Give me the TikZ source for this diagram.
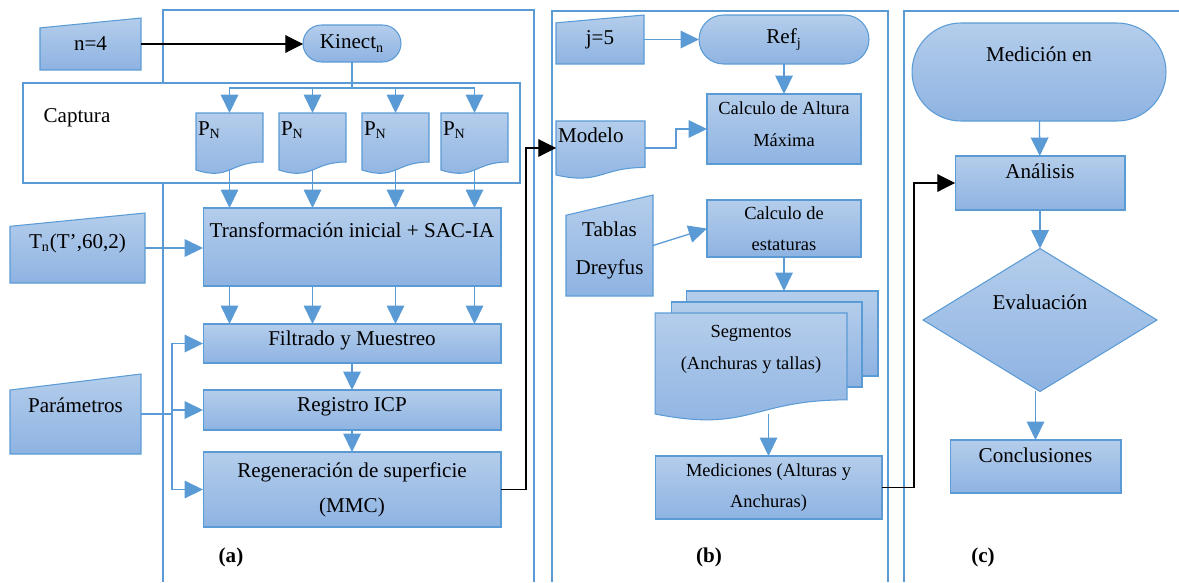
\documentclass[tikz,border=0pt]{standalone}
\usepackage{fontspec}
\setmainfont{Liberation Serif}
\usetikzlibrary{arrows.meta,calc,shapes.geometric,backgrounds}

\definecolor{boxtop}{HTML}{B4CDEB}
\definecolor{boxbot}{HTML}{8EB3E2}
\definecolor{boxline}{HTML}{5B9BD5}

\tikzset{
  shp/.style={draw=boxline, line width=0.6pt, top color=boxtop, bottom color=boxbot},
  proc/.style={shp, rectangle, outer sep=0pt, align=center},
  term/.style={proc, rounded corners=#1},
  txt/.style={rectangle, outer sep=0pt, inner sep=0pt, align=center},
  doctxt/.style={txt, inner xsep=0.04cm, align=left},
  conn/.style={draw=boxline, line width=0.75pt, -{Triangle[length=10.5pt,width=10pt]}},
  link/.style={draw=black, line width=0.6pt, -{Triangle[length=10pt,width=10pt]}},
  panel/.style={draw=boxline, line width=1.5pt},
  lift/.style={text height=0.7em, text depth=#1},
  smalltext/.style={font=\fontsize{10.5}{18}\selectfont},
  caption/.style={font=\fontsize{12}{14}\selectfont\bfseries}
}

% input shapes drawn behind their text nodes
\newcommand{\manualpath}[2]{%
  \path[shp] (#1.south west) -- (#1.south east) -- (#1.north east)
    -- ($(#1.north west)!#2!(#1.south west)$) -- cycle;}
\newcommand{\docpath}[1]{%
  \path[shp] (#1.north west) -- (#1.north east) -- ($(#1.north east)!0.86!(#1.south east)$)
    .. controls ($(#1.north)!0.86!(#1.south)$) and ($(#1.north)!1.187!(#1.south)$) .. (#1.south west) -- cycle;}
% struts to move two-line texts
\newcommand{\deepstrut}[1]{\rule[-#1]{0pt}{0pt}}
\newcommand{\tallstrut}[1]{\rule{0pt}{#1}}

\begin{document}
\begin{tikzpicture}[x=0.02cm, y=-0.02cm, font=\fontsize{12}{19.8}\selectfont]
\useasboundingbox (0,0) rectangle (1179,582);

% (a)
\node[txt, minimum width=2.02cm, minimum height=1.04cm] (n4) at (90.5,44) {n=4};
\node[term=0.37cm, minimum width=1.96cm, minimum height=0.74cm] (kin) at (352,43.5) {Kinect\textsubscript{n}};
\node[txt] (capt) at (77,118) {Captura};
\foreach \i/\x in {1/229.5,2/312.5,3/395.5,4/474.5}
  \node[doctxt, text width=1.26cm, lift=13.5pt, minimum width=1.34cm, minimum height=1.14cm] (p\i) at (\x,141.5) {P\textsubscript{N}};
\node[proc, minimum width=5.96cm, minimum height=1.56cm] (trans) at (352,247) {Transformación inicial + SAC-IA\\~};
\node[txt, lift=6.1pt, minimum width=2.70cm, minimum height=1.40cm] (tn) at (77.5,248) {T\textsubscript{n}(T’,60,2)};
\node[proc, lift=4.5pt, minimum width=5.96cm, minimum height=0.78cm] (filt) at (352,343.5) {Filtrado y Muestreo};
\node[proc, lift=5pt, minimum width=5.96cm, minimum height=0.80cm] (reg) at (352,410) {Registro ICP};
\node[proc, minimum width=5.96cm, minimum height=1.50cm] (regen) at (352,489.5) {Regeneración de superficie\\(MMC)};
\node[txt, lift=8.5pt, minimum width=2.62cm, minimum height=1.60cm] (par) at (75.5,414) {Parámetros};
\node[caption] (la) at (231,557) {(a)};

% (b)
\node[txt, minimum width=1.76cm, minimum height=0.98cm] (j5) at (600,39.5) {j=5};
\node[term=0.49cm, minimum width=3.40cm, minimum height=0.98cm] (ref) at (784,39.5) {Ref\textsubscript{j}};
\node[proc, smalltext, minimum width=3.08cm, minimum height=1.40cm] (alt) at (784,129) {Calculo de Altura\\Máxima\deepstrut{5.7pt}};
\node[doctxt, text width=1.70cm, lift=12.9pt, minimum width=1.78cm, minimum height=1.08cm] (mod) at (600.5,148) {Modelo};
\node[proc, smalltext, minimum width=3.08cm, minimum height=1.14cm] (est) at (784,228.5) {Calculo de\\estaturas};
\node[txt, font=\fontsize{12}{21.5}\selectfont, minimum width=1.74cm, minimum height=2.02cm] (tab) at (609.5,245.5) {\tallstrut{14pt}Tablas\\Dreyfus};
\node[txt, smalltext, minimum width=3.84cm, minimum height=2.02cm] (seg) at (751,363.5) {Segmentos\\(Anchuras y tallas)\\~};
\node[proc, smalltext, minimum width=4.54cm, minimum height=1.26cm] (med) at (768.5,487.5) {Mediciones (Alturas y\\Anchuras)};
\node[caption] (lb) at (709,557) {(b)};

% (c)
\node[term=0.98cm, minimum width=5.08cm, minimum height=1.96cm] (medic) at (1039,72) {Medición en\\~};
\node[proc, lift=11.9pt, minimum width=3.40cm, minimum height=1.08cm] (ana) at (1040,183) {Análisis};
\node[shp, diamond, aspect=1.64, align=center, inner sep=0pt, outer sep=0pt, minimum width=4.68cm, minimum height=2.86cm] (eva) at (1040,320) {Evaluación\\~};
\node[proc, lift=11.3pt, minimum width=3.42cm, minimum height=1.06cm] (conc) at (1035.5,466.5) {Conclusiones};
\node[caption] (lc) at (983,557) {(c)};

\begin{scope}[on background layer]
  \draw[panel] (163,582) -- (163,10) -- (534,10) -- (534,582);
  \draw[panel] (552,582) -- (552,11) -- (888,11) -- (888,582);
  \draw[panel] (904,582) -- (904,11) -- (1179,11);
  \node[panel, fill=white, minimum width=9.94cm, minimum height=2.0cm] (capbox) at (271.5,133) {};
  \node[proc, minimum width=3.84cm, minimum height=1.70cm] (seg3) at (782,333.5) {};
  \node[proc, minimum width=3.82cm, minimum height=1.70cm] (seg2) at (766.5,344.5) {};
  \manualpath{n4}{0.19}
  \manualpath{tn}{0.19}
  \manualpath{par}{0.2}
  \manualpath{j5}{0.16}
  \manualpath{tab}{0.2}
  \foreach \i in {1,...,4} {\docpath{p\i}}
  \docpath{mod}
  \docpath{seg}
\end{scope}

\coordinate (bus) at (0,88);
\coordinate (br) at ($(par.east)+(31,0)$);
\draw[link] (n4.east) -- (n4.east -| kin.west);
\foreach \d in {p1,p2,p3,p4} {
  \draw[conn] (kin.south) -- (kin.south |- bus) -| (\d.north);
  \draw[conn] (\d.south) -- (\d.south |- trans.north);
  \draw[conn] (\d.south |- trans.south) -- (\d.south |- filt.north);
}
\draw[conn] (tn.east) -- (tn.east -| trans.west);
\draw[conn] (par.east) -- (br) |- (filt.west);
\draw[conn] (br) |- (reg.west);
\draw[conn] (br) |- (regen.west);
\draw[conn] (filt) -- (reg);
\draw[conn] (reg) -- (regen);
\draw[link] (regen.east) -- ++(25,0) |- (mod.west);

\draw[conn] (j5.east) -- (ref.west);
\draw[conn] (ref) -- (alt);
\draw[conn] (mod.east) -- ++(31,0) |- (alt.west);
\draw[conn] (tab.east) -- (est.west);
\draw[conn] (est.south) -- (est.south |- seg3.north);
\draw[conn] (seg.south -| med.north) -- (med.north);
\draw[link] (med.east) -- ++(32,0) |- (ana.west);

\draw[conn] (medic) -- (ana);
\draw[conn] (ana) -- (eva);
\draw[conn] (conc.north |- eva.south) -- (conc.north);
\end{tikzpicture}
\end{document}
